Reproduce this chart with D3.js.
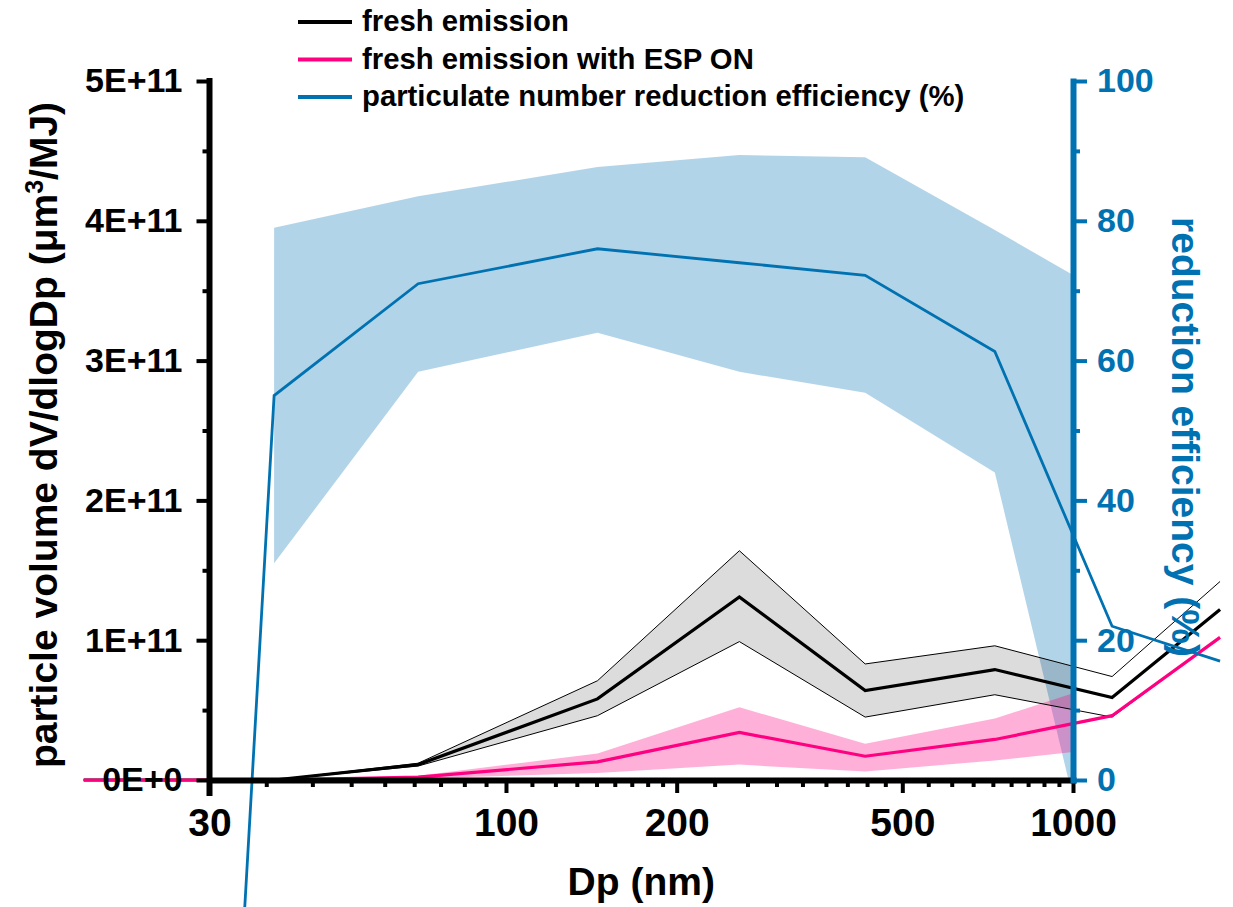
<!DOCTYPE html>
<html>
<head>
<meta charset="utf-8">
<script src="https://cdn.jsdelivr.net/npm/d3@7"></script>
<style>
  html, body { margin: 0; padding: 0; background: #fff; }
  svg { display: block; }
  text { font-family: "Liberation Sans", Arial, sans-serif; font-weight: bold; }
</style>
</head>
<body>
<div id="chart"></div>
<script>
// ---------------- data ----------------
const dp = [18, 39, 70, 145, 258, 430, 728, 1172, 1817];              // nm
const freshMean  = [0, 0, 0.11e11, 0.58e11, 1.31e11, 0.64e11, 0.79e11, 0.59e11, 1.22e11];
const freshUpper = [0, 0, 0.12e11, 0.71e11, 1.64e11, 0.83e11, 0.96e11, 0.74e11, 1.42e11];
const freshLower = [0, 0, 0.10e11, 0.46e11, 0.99e11, 0.45e11, 0.61e11, 0.45e11, 1.02e11];
const espMean  = [0, 0, 0.02e11, 0.13e11, 0.34e11, 0.17e11, 0.29e11, 0.46e11, 1.02e11];
const espUpper = [0, 0, 0.03e11, 0.19e11, 0.52e11, 0.26e11, 0.44e11, 0.71e11, 1.35e11];
const espLower = [0, 0, 0.01e11, 0.05e11, 0.11e11, 0.06e11, 0.14e11, 0.23e11, 0.70e11];
const effMean  = [-420, 55, 71, 76, 74, 72.2, 61.3, 22, 17];
const effUpper = [null, 79, 83.5, 87.7, 89.4, 89.1, 78.7, 69, 40];
const effLower = [null, 31, 58.4, 64, 58.4, 55.4, 44, -26, -6];

const xTicks = [30, 100, 200, 500, 1000];
const yLeftTicks = [0, 1e11, 2e11, 3e11, 4e11, 5e11];
const yLeftMinor = [0.5e11, 1.5e11, 2.5e11, 3.5e11, 4.5e11];
const yRightTicks = [0, 20, 40, 60, 80, 100];
const yRightMinor = [10, 30, 50, 70, 90];
const legendLabels = ["fresh emission", "fresh emission with ESP ON", "particulate number reduction efficiency (%)"];

// ---------------- setup ----------------
const W = 1233, H = 907;
const pL = 209.5, pR = 1073, pT = 81, pB = 780;
const BLUE = "#0072b2", PINK = "#ff0080";

const svg = d3.select("#chart").append("svg").attr("width", W).attr("height", H);

const x = d3.scaleLog().domain([30, 1000]).range([pL, pR]);
const yL = d3.scaleLinear().domain([0, 5e11]).range([pB, pT]);
const yR = d3.scaleLinear().domain([0, 100]).range([pB, pT]);

// minor x ticks: 8 linear subdivisions between consecutive labelled ticks
const xMinor = [];
for (let i = 0; i < xTicks.length - 1; i++) {
  const a = xTicks[i], b = xTicks[i + 1];
  for (let k = 1; k <= 8; k++) xMinor.push(a + (b - a) * k / 9);
}

svg.append("defs").append("clipPath").attr("id", "plotclip")
  .append("rect").attr("x", pL).attr("y", pT).attr("width", pR - pL).attr("height", pB - pT);

const idx = d3.range(dp.length);

function band(lo, hi, ys) {
  return d3.area().defined(i => lo[i] != null && hi[i] != null)
    .x(i => x(dp[i])).y0(i => ys(lo[i])).y1(i => ys(hi[i]));
}
function line(vals, ys) {
  return d3.line().defined(i => vals[i] != null).x(i => x(dp[i])).y(i => ys(vals[i]));
}

const fills = svg.append("g").attr("clip-path", "url(#plotclip)");
fills.append("path").attr("d", band(effLower, effUpper, yR)(idx))
  .attr("fill", BLUE).attr("fill-opacity", 0.3);
fills.append("path").attr("d", band(freshLower, freshUpper, yL)(idx))
  .attr("fill", "#000").attr("fill-opacity", 0.137);
fills.append("path").attr("d", band(espLower, espUpper, yL)(idx))
  .attr("fill", PINK).attr("fill-opacity", 0.31);

const lines = svg.append("g").attr("fill", "none").attr("stroke-linejoin", "miter");
lines.append("path").attr("d", line(freshUpper, yL)(idx)).attr("stroke", "#000").attr("stroke-width", 1);
lines.append("path").attr("d", line(freshLower, yL)(idx)).attr("stroke", "#000").attr("stroke-width", 1);
lines.append("path").attr("d", line(freshMean, yL)(idx)).attr("stroke", "#000").attr("stroke-width", 3.2);
lines.append("path").attr("d", line(espMean, yL)(idx)).attr("stroke", PINK).attr("stroke-width", 3.2);
lines.append("path").attr("d", line(effMean, yR)(idx)).attr("stroke", BLUE).attr("stroke-width", 2.8);

// ---------------- axes ----------------
function styleAxis(g, color, labelSize) {
  g.select(".domain").attr("stroke", color).attr("stroke-width", 6).attr("stroke-linecap", "square");
  g.selectAll(".tick line").attr("stroke", color).attr("stroke-width", 4);
  g.selectAll(".tick text").attr("fill", color).style("font-size", labelSize + "px")
    .style("font-family", "'Liberation Sans', Arial, sans-serif").style("font-weight", "bold");
}

// x minor
const gxm = svg.append("g").attr("transform", `translate(0,${pB})`)
  .call(d3.axisBottom(x).tickValues(xMinor).tickSize(7).tickFormat(""));
gxm.select(".domain").remove();
gxm.selectAll(".tick line").attr("stroke", "#000").attr("stroke-width", 4);

const gx = svg.append("g").attr("transform", `translate(0,${pB})`)
  .call(d3.axisBottom(x).tickValues(xTicks).tickSize(13).tickSizeOuter(0).tickPadding(15).tickFormat(d3.format("d")));
styleAxis(gx, "#000", 39);

// left
const gylm = svg.append("g").attr("transform", `translate(${pL},0)`)
  .call(d3.axisLeft(yL).tickValues(yLeftMinor).tickSize(7).tickFormat(""));
gylm.select(".domain").remove();
gylm.selectAll(".tick line").attr("stroke", "#000").attr("stroke-width", 4);

const gyl = svg.append("g").attr("transform", `translate(${pL},0)`)
  .call(d3.axisLeft(yL).tickValues(yLeftTicks).tickSize(13).tickSizeOuter(0).tickPadding(14)
    .tickFormat(d => d === 0 ? "0E+0" : (d / 1e11) + "E+11"));
styleAxis(gyl, "#000", 34);
gyl.select(".domain").attr("d", `M0,${pT}V${pB + 13}`);

// right
const gyrm = svg.append("g").attr("transform", `translate(${pR},0)`)
  .call(d3.axisRight(yR).tickValues(yRightMinor).tickSize(7).tickFormat(""));
gyrm.select(".domain").remove();
gyrm.selectAll(".tick line").attr("stroke", BLUE).attr("stroke-width", 4);

const gyr = svg.append("g").attr("transform", `translate(${pR},0)`)
  .call(d3.axisRight(yR).tickValues(yRightTicks).tickSize(14).tickSizeOuter(0).tickPadding(10).tickFormat(d3.format("d")));
styleAxis(gyr, BLUE, 34);

// ---------------- titles ----------------
svg.append("text").attr("x", (pL + pR) / 2).attr("y", 895).attr("text-anchor", "middle")
  .style("font-size", "39px").attr("fill", "#000").text("Dp (nm)");

const lt = svg.append("text").attr("transform", `translate(57,435) rotate(-90)`).attr("text-anchor", "middle")
  .style("font-size", "39px").attr("fill", "#000");
lt.append("tspan").text("particle volume dV/dlogDp (\u03bcm");
lt.append("tspan").attr("dy", -14).style("font-size", "25px").text("3");
lt.append("tspan").attr("dy", 14).text("/MJ)");

svg.append("text").attr("transform", `translate(1172,437) rotate(90)`).attr("text-anchor", "middle")
  .style("font-size", "39px").attr("fill", BLUE).text("reduction efficiency (%)");

// ---------------- legend ----------------
const legColors = ["#000", PINK, BLUE];
const leg = svg.append("g");
legendLabels.forEach((lab, i) => {
  const yy = 22 + i * 37.5;
  leg.append("line").attr("x1", 298).attr("x2", 352).attr("y1", yy).attr("y2", yy)
    .attr("stroke", legColors[i]).attr("stroke-width", 4);
  leg.append("text").attr("x", 362).attr("y", yy + 9).style("font-size", "29.3px").attr("fill", "#000").text(lab);
});
</script>
</body>
</html>
